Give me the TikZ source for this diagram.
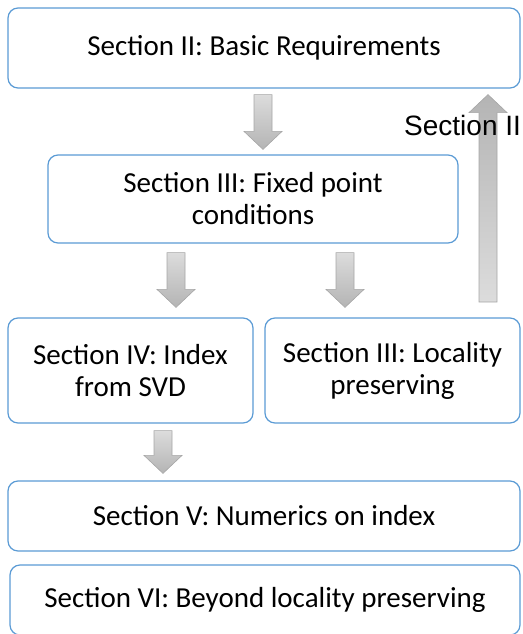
\documentclass[tikz,border=0pt]{standalone}
\usepackage{fontspec}
\setmainfont{Carlito}
\newfontfamily\arialfont{Liberation Sans}
\usetikzlibrary{calc}
\definecolor{boxblue}{HTML}{5B9BD5}
\definecolor{arrowlight}{HTML}{DCDCDC}
\definecolor{arrowdark}{HTML}{B4B4B4}
\definecolor{arrowline}{HTML}{A6A6A6}

% block arrow: style, tail, tip
\newcommand{\blockarrow}[3]{%
  \path[#1] let \p1=#2, \p2=#3, \n1={sign(\y2-\y1)} in
    ({\x1-9pt},\y1) -- ({\x1+9pt},\y1) -- ({\x1+9pt},{\y2-(\n1)*18pt})
    -- ({\x1+19pt},{\y2-(\n1)*18pt}) -- (\x1,\y2)
    -- ({\x1-19pt},{\y2-(\n1)*18pt}) -- ({\x1-9pt},{\y2-(\n1)*18pt}) -- cycle;}

\begin{document}
\begin{tikzpicture}[x=1pt,y=1pt,
section/.style={draw=boxblue,line width=1.2pt,rounded corners=10pt,fill=white,
  align=center,inner sep=0pt,font=\fontsize{29}{32}\selectfont},
downshade/.style={top color=arrowlight,bottom color=arrowdark,draw=arrowline,line width=0.6pt},
upshade/.style={top color=arrowdark,bottom color=arrowlight,draw=arrowline,line width=0.6pt}]
\useasboundingbox (0,0) rectangle (522,-634);

\node[section,minimum width=512pt,minimum height=80pt] (basic) at (264,-48) {Section II: Basic Requirements};
\node[section,minimum width=410pt,minimum height=88pt] (fixed) at (253,-199) {Section III: Fixed point\\conditions};
\node[section,minimum width=245pt,minimum height=105pt] (index) at (130.5,-370.5) {Section IV: Index\\from SVD};
\node[section,minimum width=255pt,minimum height=105pt] (local) at (392.5,-370.5) {Section III: Locality\\preserving};
\node[section,minimum width=512pt,minimum height=70pt] (numerics) at (264,-516) {Section V: Numerics on index};
\node[section,minimum width=510pt,minimum height=70pt] (beyond) at (265,-600) {Section VI: Beyond locality preserving};

\blockarrow{downshade}{($(263,0 |- basic.south)+(0,-6)$)}{($(263,0 |- fixed.north)+(0,5)$)}
\blockarrow{downshade}{($(176,0 |- fixed.south)+(0,-9)$)}{($(176,0 |- index.north)+(0,10)$)}
\blockarrow{downshade}{($(345,0 |- fixed.south)+(0,-9)$)}{($(345,0 |- local.north)+(0,10)$)}
\blockarrow{downshade}{($(163,0 |- index.south)+(0,-7)$)}{($(163,0 |- numerics.north)+(0,7)$)}

\coordinate (uptail) at (488,-302);
\blockarrow{upshade}{(uptail)}{($(488,0 |- basic.south)+(0,-6)$)}

\node[anchor=base west,inner sep=0pt,font=\arialfont\fontsize{28}{32}\selectfont] (backlabel) at (404,-135) {Section II};
\end{tikzpicture}
\end{document}
